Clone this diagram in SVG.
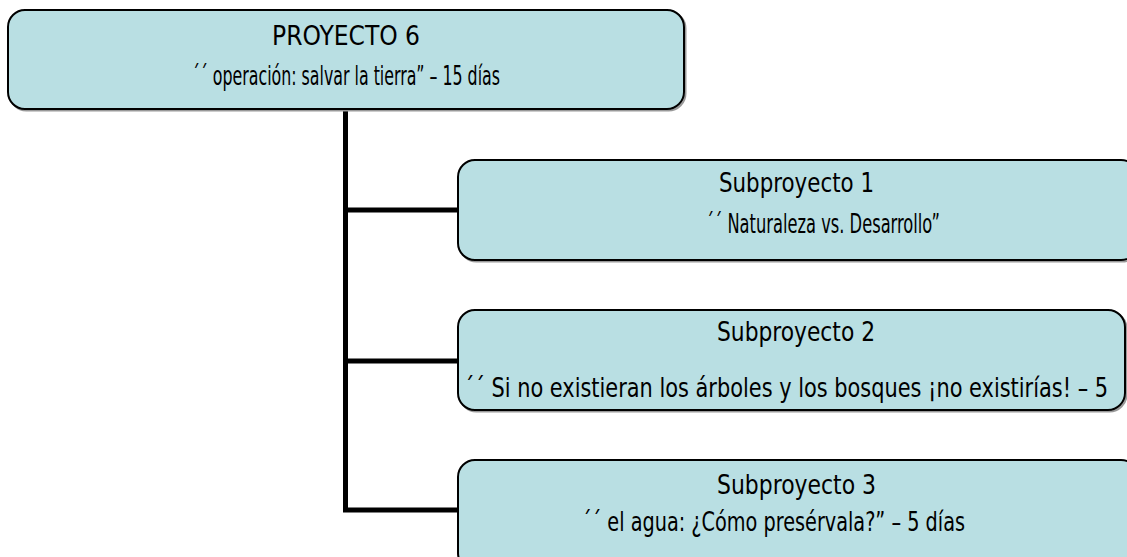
<svg xmlns="http://www.w3.org/2000/svg" width="1127" height="557" viewBox="0 0 1127 557">
<style>
.box{fill:#b9dfe3;stroke:#000;stroke-width:2}
.sh{fill:none;stroke:#999;stroke-width:2}
.t{font-family:"DejaVu Sans Condensed","DejaVu Sans",sans-serif;font-stretch:condensed;font-size:27px;fill:#000}
.c{fill:none;stroke:#000;stroke-width:5;stroke-linejoin:miter}
</style>
<rect width="1127" height="557" fill="#fff"/>
<g id="connectors">
<path class="c" d="M345.5,109 V510 H460"/>
<path class="c" d="M345.5,210 H459"/>
<path class="c" d="M345.5,361 H459"/>
</g>
<g id="root">
<rect class="sh" x="9.5" y="11.5" width="676" height="99" rx="17"/>
<rect class="box" x="8" y="10" width="676" height="99" rx="17"/>
<text class="t" x="272" y="45" textLength="148" lengthAdjust="spacingAndGlyphs">PROYECTO 6</text>
<text class="t" x="192" y="85" textLength="308" lengthAdjust="spacingAndGlyphs">´´ operación: salvar la tierra” – 15 días</text>
</g>
<g id="sub1">
<rect class="sh" x="459.5" y="161.5" width="680" height="100" rx="17"/>
<rect class="box" x="458" y="160" width="680" height="100" rx="17"/>
<text class="t" x="719" y="192" textLength="155" lengthAdjust="spacingAndGlyphs">Subproyecto 1</text>
<text class="t" x="706" y="233" textLength="234" lengthAdjust="spacingAndGlyphs">´´ Naturaleza vs. Desarrollo”</text>
</g>
<g id="sub2">
<rect class="sh" x="459.5" y="311.5" width="667" height="100" rx="17"/>
<rect class="box" x="458" y="310" width="667" height="100" rx="17"/>
<text class="t" x="717" y="341" textLength="158" lengthAdjust="spacingAndGlyphs">Subproyecto 2</text>
<text class="t" x="464" y="397" textLength="644" lengthAdjust="spacingAndGlyphs">´´ Si no existieran los árboles y los bosques ¡no existirías! – 5</text>
</g>
<g id="sub3">
<rect class="sh" x="459.5" y="461.5" width="680" height="110" rx="17"/>
<rect class="box" x="458" y="460" width="680" height="110" rx="17"/>
<text class="t" x="717" y="494" textLength="159" lengthAdjust="spacingAndGlyphs">Subproyecto 3</text>
<text class="t" x="582" y="531" textLength="383" lengthAdjust="spacingAndGlyphs">´´ el agua: ¿Cómo presérvala?” – 5 días</text>
</g>
</svg>
